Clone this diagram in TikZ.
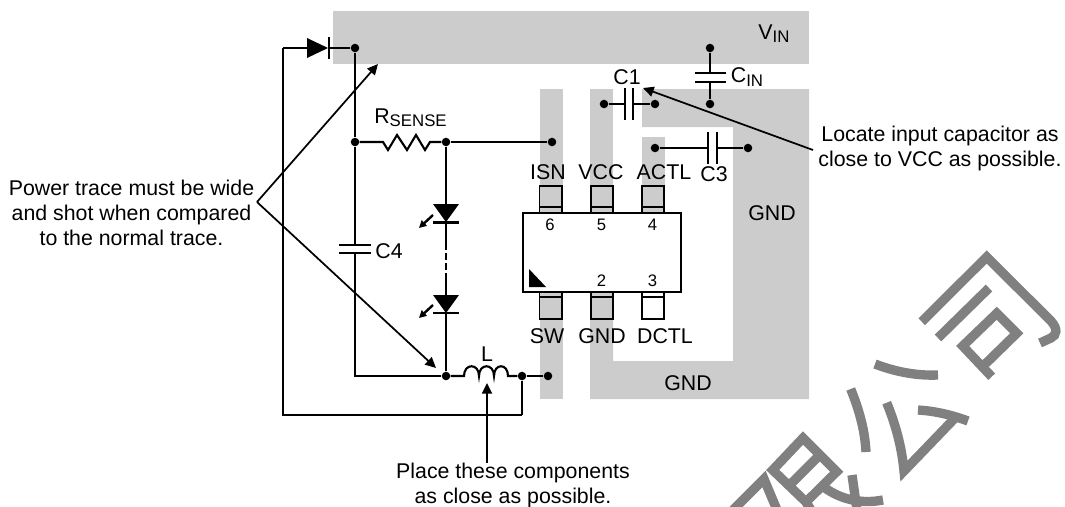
\documentclass[tikz,border=0pt]{standalone}
\usepackage{fontspec}
\setmainfont{Liberation Sans}
\usetikzlibrary{arrows.meta}
\definecolor{trace}{HTML}{CCCCCC}
\definecolor{wmark}{HTML}{808080}
\newcommand{\lowsub}[1]{\raisebox{-0.15em}{\fontsize{12.6pt}{14pt}\selectfont #1}}
\tikzset{
  x=0.75pt,y=-0.75pt,
  txt/.style={inner sep=0pt,font=\fontsize{16pt}{18.75pt}\selectfont,align=center,text=black},
  num/.style={inner sep=0pt,font=\fontsize{12.5pt}{14pt}\selectfont,text=black},
  dot/.style={circle,fill=black,inner sep=0pt,minimum size=6.4pt},
  wire/.style={line width=1.6pt,line join=miter},
  plate/.style={line width=1.6pt},
  note/.style={line width=1.3pt,-{Triangle[length=8pt,width=7.5pt]}},
  pad/.style={draw=black,line width=1.2pt},
  ledarrow/.style={line width=1.8pt,-{Triangle[length=5.5pt,width=5.5pt]}},
  wm/.style={draw=wmark,line width=7pt,line join=miter},
}
\begin{document}
\begin{tikzpicture}
\useasboundingbox (0,0) rectangle (1065,507);
% copper areas
\fill[trace] (333,11) rectangle (809,64);
\fill[trace] (540,89) rectangle (563,213);
\fill[trace] (590,89) rectangle (613,213);
\fill[trace] (642,137) rectangle (665,213);
\fill[trace] (540,292) rectangle (563,399);
\fill[trace] (642,89) -- (809,89) -- (809,399) -- (590,399) -- (590,292) -- (613,292) -- (613,361) -- (733,361) -- (733,127) -- (642,127) -- cycle;
% watermark
\begin{scope}
\clip (0,0) rectangle (1065,507);
\draw[wm] (921.7,321.7) -- (986.7,257) -- (1051,321) .. controls (1058,329) and (1057,335) .. (1051,338) -- (1040,343);
\draw[wm] (938,338) -- (989,288);
\draw[wm] (991.7,376.7) -- (962.7,346) -- (996.7,313.3) -- (1016.7,333.3) -- (986,363.3);
\draw[wm] (875,364) .. controls (893,371) and (915,376) .. (938,375);
\draw[wm] (850.7,389) .. controls (860,412) and (865,432) .. (866,452);
\draw[wm] (886.7,402.7) .. controls (897,428) and (902,450) .. (904,471) -- (955,418);
\draw[wm] (918,410) .. controls (935,411) and (952,415) .. (968,421);
\draw[wm] (803,438) -- (836.7,471.7) -- (806,502) -- (772.7,470) -- cycle;
\draw[wm] (816.7,458) -- (791.7,483);
\draw[wm] (806,502) -- (811,510);
\draw[wm] (733,510) -- (764,479) -- (777,510);
\draw[wm] (852,475) -- (857,510);
\draw[wm] (825,488) .. controls (842,500) and (862,504) .. (883,500);
\end{scope}
% chip
\draw[pad] (539.5,186) rectangle (562,213);
\draw[pad] (591,186) rectangle (613,213);
\draw[pad] (642,186) rectangle (664,213);
\draw[pad] (539.5,207) -- (562,207);
\draw[pad] (591,207) -- (613,207);
\draw[pad] (642,207) -- (664,207);
\draw[pad] (539.5,292) rectangle (562,319);
\draw[pad] (591,292) rectangle (613,319);
\draw[pad,fill=white] (642,292) rectangle (664,319);
\draw[pad] (539.5,297) -- (562,297);
\draw[pad] (591,297) -- (613,297);
\draw[pad] (642,297) -- (664,297);
\node[draw=black,line width=1.3pt,fill=white,minimum width=118.5pt,minimum height=59.25pt,inner sep=0pt] (chip) at (602,252.5) {};
\fill[black] (529,269) -- (529,287) -- (546,287) -- cycle;
\node[num] (p6) at (550,225) {6};
\node[num] (p5) at (601.5,225) {5};
\node[num] (p4) at (652.5,225) {4};
\node[num] (p2) at (601.5,281) {2};
\node[num] (p3) at (652.5,281) {3};
% pin labels
\node[txt] (lisn) at (548,172) {ISN};
\node[txt] (lvcc) at (601,172) {VCC};
\node[txt] (lactl) at (664,172) {ACTL};
\node[txt] (lsw) at (547,336) {SW};
\node[txt] (lgnd) at (602,336) {GND};
\node[txt] (ldctl) at (665,336) {DCTL};
\node[txt] (gndr) at (772,213) {GND};
\node[txt] (gndb) at (688,383) {GND};
\node[txt] (vin) at (774,34) {V\lowsub{IN}};
% junction dots
\node[dot] (top) at (355,48) {};
\node[dot] (mid) at (355,142) {};
\node[dot] (rs) at (446,142) {};
\node[dot] (isn) at (552,142) {};
\node[dot] (low) at (446,376) {};
\node[dot] (lout) at (522,376) {};
\node[dot] (sw) at (548,376) {};
\coordinate (corner) at (355,376);
\coordinate (tl) at (283,48);
\coordinate (bl) at (283,415);
\coordinate (br) at (522,415);
% freewheel diode
\coordinate (da) at (307,48);
\coordinate (dk) at (329,48);
\draw[wire] (br) -- (lout);
\draw[wire] (tl) -- (bl) -- (br);
\draw[wire] (tl) -- (da);
\fill[black] (307,38) -- (328,48) -- (307,58) -- cycle;
\draw[plate] (329,37) -- (329,59);
\draw[wire] (dk) -- (top);
% supply rail with C4
\coordinate (c4a) at (355,245);
\coordinate (c4b) at (355,253);
\draw[wire] (top) -- (mid) -- (c4a);
\draw[wire] (c4b) -- (corner) -- (low);
\draw[plate] (339,245) -- (371,245);
\draw[plate] (339,253) -- (371,253);
\node[txt] (lc4) at (389,251) {C4};
% Rsense
\draw[wire] (mid) -- (383,142) -- (388,150) -- (397,135) -- (407,150) -- (416,135) -- (425,150) -- (430,142) -- (rs);
\draw[wire] (rs) -- (isn);
\node[txt] (lrs) at (410.5,118) {R\lowsub{SENSE}};
% LED string
\coordinate (led1a) at (446,204);
\coordinate (led1k) at (446,222);
\coordinate (d1) at (446,243);
\coordinate (d2) at (446,277);
\coordinate (led2a) at (446,295);
\coordinate (led2k) at (446,313);
\draw[wire] (rs) -- (led1a);
\fill[black] (433,204) -- (459,204) -- (446,222) -- cycle;
\draw[plate] (433,222.5) -- (459,222.5);
\draw[wire] (led1k) -- (d1);
\draw[plate,dash pattern=on 5pt off 2.5pt] (d1) -- (d2);
\draw[wire] (d2) -- (led2a);
\fill[black] (433,295) -- (459,295) -- (446,313) -- cycle;
\draw[plate] (433,313) -- (459,313);
\draw[wire] (led2k) -- (low);
\draw[ledarrow] (433,215) -- (419,228);
\draw[ledarrow] (433,305) -- (419,318);
% inductor
\draw[wire] (low) -- (464,376) .. controls (464,363) and (479,363) .. (479,376) .. controls (479,363) and (494,363) .. (494,376) .. controls (494,363) and (508,363) .. (508,376) -- (lout);
\draw[wire] (lout) -- (sw);
\node[txt] (ll) at (487,354) {L};
% C1
\node[dot] (c1a) at (604,104) {};
\node[dot] (c1b) at (655,104) {};
\draw[wire] (c1a) -- (625,104);
\draw[wire] (633,104) -- (c1b);
\draw[plate] (625,88) -- (625,120);
\draw[plate] (633,88) -- (633,120);
\node[txt] (lc1) at (627,77) {C1};
% CIN
\node[dot] (cina) at (710,48) {};
\node[dot] (cinb) at (710,104) {};
\draw[wire] (cina) -- (710,73);
\draw[wire] (710,82) -- (cinb);
\draw[plate] (695,73) -- (726,73);
\draw[plate] (695,82) -- (726,82);
\node[txt] (lcin) at (747,77) {C\lowsub{IN}};
% C3
\node[dot] (c3a) at (655,148) {};
\node[dot] (c3b) at (748,148) {};
\draw[wire] (c3a) -- (708,148);
\draw[wire] (717,148) -- (c3b);
\draw[plate] (708,132) -- (708,164);
\draw[plate] (717,132) -- (717,164);
\node[txt] (lc3) at (714,174) {C3};
% annotations
\node[txt] (ann1) at (131.5,213) {Power trace must be wide\\and shot when compared\\to the normal trace.};
\node[txt] (ann2) at (940,148.5) {Locate input capacitor as\\close to VCC as possible.};
\node[txt] (ann3) at (513,485) {Place these components\\as close as possible.};
\coordinate (apex) at (257,202);
\coordinate (t1) at (378,64);
\coordinate (t2) at (436,368);
\coordinate (t3) at (643,88);
\coordinate (s3) at (813,150);
\coordinate (t4) at (487,383);
\coordinate (s4) at (487,463);
\draw[note] (apex) -- (t1);
\draw[note] (apex) -- (t2);
\draw[note] (s3) -- (t3);
\draw[note] (s4) -- (t4);
\end{tikzpicture}
\end{document}
